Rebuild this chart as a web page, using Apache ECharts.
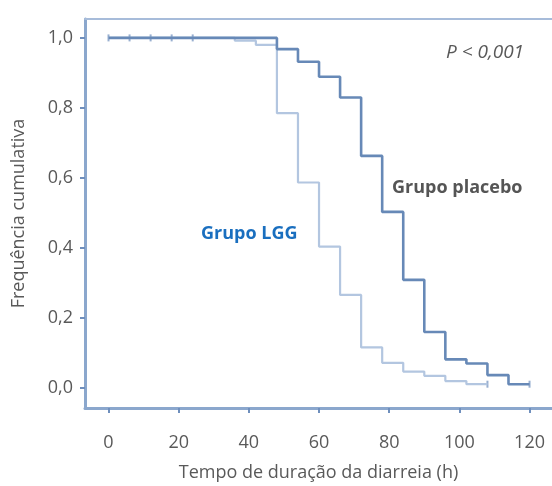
<!DOCTYPE html>
<html lang="pt">
<head>
    <meta charset="UTF-8">
    <title>Frequência cumulativa</title>
    <script src="https://cdn.jsdelivr.net/npm/echarts@6/dist/echarts.min.js"></script>
    <style>
        html, body { margin: 0; padding: 0; background: #fff; }
        #chart { width: 552px; height: 486px; }
    </style>
</head>
<body>
<div id="chart"></div>
<script type="text/javascript">
    // dados (tempo em horas, frequência)
    var lggTimes = [0, 36, 42, 48, 54, 60, 66, 72, 78, 84, 90, 96, 102, 108];
    var lggSurv = [1, 0.992, 0.98, 0.785, 0.587, 0.404, 0.266, 0.116, 0.072, 0.047, 0.035, 0.02, 0.011, 0.011];
    var placeboTimes = [0, 48, 54, 60, 66, 72, 78, 84, 90, 96, 102, 108, 114, 120];
    var placeboSurv = [1, 0.968, 0.932, 0.889, 0.83, 0.663, 0.503, 0.309, 0.16, 0.082, 0.07, 0.037, 0.011, 0.011];
    var censorTimes = [0, 6, 12, 18, 24];
    var xTicks = [0, 20, 40, 60, 80, 100, 120];
    var yTicks = [0, 0.2, 0.4, 0.6, 0.8, 1.0];

    var axisColor = '#8ba7cd';
    var darkLine = '#6789b7';
    var lightLine = '#b3c6e0';
    var textColor = '#595959';
    var font = 'Open Sans';

    function pairs(xs, ys) {
        var out = [];
        for (var i = 0; i < xs.length; i++) out.push([xs[i], ys[i]]);
        return out;
    }

    var censorData = censorTimes.map(function (t) { return [t, 1]; });
    censorData.push([lggTimes[lggTimes.length - 1], lggSurv[lggSurv.length - 1]]);
    censorData.push([placeboTimes[placeboTimes.length - 1], placeboSurv[placeboSurv.length - 1]]);

    var myChart = echarts.init(document.getElementById('chart'));
    myChart.setOption({
        animation: false,
        grid: { left: 85, right: 0, top: 19, bottom: 78, outerBoundsMode: 'none', containLabel: false },
        xAxis: [{
            type: 'value',
            min: -6.7,
            max: 126.4,
            name: 'Tempo de duração da diarreia (h)',
            nameLocation: 'middle',
            nameGap: 56,
            nameTextStyle: { color: textColor, fontSize: 18, fontFamily: font },
            axisLine: { show: true, onZero: false, lineStyle: { color: axisColor, width: 3 } },
            axisTick: { show: true, length: 5, lineStyle: { color: '#6f8fbd', width: 2 }, customValues: xTicks },
            axisLabel: {
                color: textColor, fontSize: 18, fontFamily: font, margin: 26,
                customValues: xTicks
            },
            splitLine: { show: false }
        }, {
            type: 'value',
            position: 'top',
            min: -6.7,
            max: 126.4,
            axisLine: { show: true, onZero: false, lineStyle: { color: '#a7bcda', width: 2 } },
            axisTick: { show: false },
            axisLabel: { show: false },
            splitLine: { show: false }
        }],
        yAxis: {
            type: 'value',
            min: -0.057,
            max: 1.054,
            name: 'Frequência cumulativa',
            nameLocation: 'middle',
            nameGap: 57,
            nameTextStyle: { color: textColor, fontSize: 18, fontFamily: font },
            axisLine: { show: true, onZero: false, lineStyle: { color: axisColor, width: 3 } },
            axisTick: { show: true, length: 5, lineStyle: { color: '#6f8fbd', width: 2 }, customValues: yTicks },
            axisLabel: {
                color: textColor, fontSize: 18, fontFamily: font, margin: 12,
                customValues: yTicks,
                formatter: function (v) { return v.toFixed(1).replace('.', ','); }
            },
            splitLine: { show: false }
        },
        series: [{
            name: 'Grupo LGG',
            type: 'line',
            step: 'end',
            data: pairs(lggTimes, lggSurv),
            showSymbol: false,
            lineStyle: { color: lightLine, width: 2.2 }
        }, {
            name: 'Grupo placebo',
            type: 'line',
            step: 'end',
            data: pairs(placeboTimes, placeboSurv),
            showSymbol: false,
            lineStyle: { color: darkLine, width: 2.6 }
        }, {
            name: 'censura',
            type: 'scatter',
            data: censorData,
            symbol: 'rect',
            symbolSize: [2, 7],
            itemStyle: { color: '#7e9bc4' }
        }],
        graphic: [{
            type: 'text',
            left: 446, top: 43,
            style: { text: 'P < 0,001', fill: textColor, fontSize: 19, fontStyle: 'italic', fontFamily: font }
        }, {
            type: 'text',
            left: 392, top: 179,
            style: { text: 'Grupo placebo', fill: '#555555', fontSize: 18, fontWeight: 'bold', fontFamily: font }
        }, {
            type: 'text',
            left: 201, top: 225,
            style: { text: 'Grupo LGG', fill: '#1a6fbf', fontSize: 18, fontWeight: 'bold', fontFamily: font }
        }]
    });
</script>
</body>
</html>
